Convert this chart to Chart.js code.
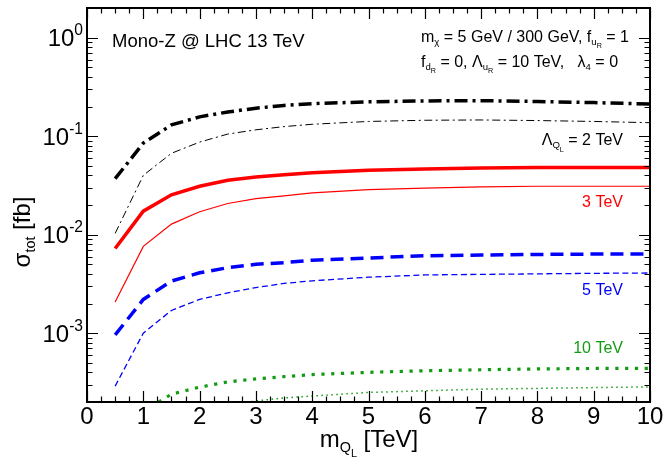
<!DOCTYPE html>
<html>
<head>
<meta charset="utf-8">
<script src="https://cdn.jsdelivr.net/npm/chart.js@4.4.1/dist/chart.umd.min.js"></script>
<style>
  html, body { margin: 0; padding: 0; background: #fff; }
</style>
</head>
<body>
<canvas id="xsecChart" width="665" height="463"></canvas>
<script>
// m_Q (TeV) sample points and cross sections (fb)
const massPoints = [0.5, 1, 1.5, 2, 2.5, 3, 3.5, 4, 5, 6, 7, 8, 9, 10];

// Lambda_QL = 2 TeV
const sigL2_m5   = [0.037, 0.085, 0.130, 0.157, 0.176, 0.192, 0.205, 0.214, 0.223, 0.228, 0.229, 0.225, 0.219, 0.212];
const sigL2_m300 = [0.0103, 0.040, 0.067, 0.087, 0.105, 0.116, 0.125, 0.132, 0.141, 0.145, 0.146, 0.144, 0.141, 0.137];
// Lambda_QL = 3 TeV
const sigL3_m5   = [0.00723, 0.0173, 0.0254, 0.031, 0.0356, 0.0385, 0.0405, 0.0425, 0.045, 0.0465, 0.0475, 0.048, 0.048, 0.048];
const sigL3_m300 = [0.00207, 0.0076, 0.0128, 0.0171, 0.0207, 0.0232, 0.0247, 0.0265, 0.0287, 0.0297, 0.0305, 0.031, 0.031, 0.031];
// Lambda_QL = 5 TeV
const sigL5_m5   = [0.00096, 0.0022, 0.00338, 0.0041, 0.00462, 0.0050, 0.0052, 0.0055, 0.0058, 0.0061, 0.0062, 0.0063, 0.00635, 0.00635];
const sigL5_m300 = [0.00029, 0.0010, 0.0017, 0.0022, 0.00257, 0.0029, 0.0032, 0.0034, 0.0037, 0.0039, 0.00395, 0.0040, 0.00405, 0.00408];
// Lambda_QL = 10 TeV
const sigL10_m5   = [0.00006, 0.00016, 0.00024, 0.000283, 0.00032, 0.000343, 0.000362, 0.00038, 0.0004, 0.000415, 0.000425, 0.000433, 0.000438, 0.00044];
const sigL10_m300 = [0.00002, 0.000067, 0.00012, 0.000153, 0.000185, 0.000205, 0.00022, 0.00023, 0.00025, 0.00026, 0.00027, 0.000275, 0.00028, 0.000285];

// axis ticks
const xTickLabels = [0, 1, 2, 3, 4, 5, 6, 7, 8, 9, 10];
const yTickValues = [1, 0.1, 0.01, 0.001];
const yTickExps = ['0', '-1', '-2', '-3'];

const FONT = '"Liberation Sans", Arial, Helvetica, sans-serif';
const GREEN = 'rgb(20,155,20)';

function pts(ys) {
  return massPoints.map((x, i) => ({ x: x, y: ys[i] }));
}

// draw text made of pieces: [text, level]  0 normal, 1 sub, 2 sub-sub, -1 super
function richText(ctx, parts, x, y, size, align, color) {
  const lv = { '0': [1, 0], '1': [0.6, 0.2], '2': [0.45, 0.42], '-1': [0.65, -0.45] };
  let total = 0;
  parts.forEach(p => {
    ctx.font = (size * lv[p[1]][0]) + 'px ' + FONT;
    total += ctx.measureText(p[0]).width;
  });
  let cx = align === 'right' ? x - total : align === 'center' ? x - total / 2 : x;
  ctx.fillStyle = color || '#000';
  ctx.textAlign = 'left';
  ctx.textBaseline = 'alphabetic';
  parts.forEach(p => {
    ctx.font = (size * lv[p[1]][0]) + 'px ' + FONT;
    ctx.fillText(p[0], cx, y + size * lv[p[1]][1]);
    cx += ctx.measureText(p[0]).width;
  });
}

const framePlugin = {
  id: 'frame',
  afterDraw(chart) {
    const ctx = chart.ctx;
    const a = chart.chartArea;
    const xs = chart.scales.x, ys = chart.scales.y;
    ctx.save();
    ctx.strokeStyle = '#000';
    ctx.lineWidth = 1.2;
    ctx.beginPath();
    // x ticks, top and bottom
    for (let v = 0; v <= 10.001; v += 0.25) {
      const px = Math.round(xs.getPixelForValue(v)) + 0.5;
      const len = Math.abs(v - Math.round(v)) < 1e-6 ? 11 : 5.5;
      ctx.moveTo(px, a.bottom); ctx.lineTo(px, a.bottom - len);
      ctx.moveTo(px, a.top); ctx.lineTo(px, a.top + len);
    }
    // y ticks, left and right
    for (let e = -4; e <= 0; e++) {
      for (let m = 1; m <= 9; m++) {
        const v = m * Math.pow(10, e);
        if (v < ys.min * 0.999 || v > ys.max * 1.001) continue;
        const py = Math.round(ys.getPixelForValue(v)) + 0.5;
        const len = m === 1 ? 11 : 5.5;
        ctx.moveTo(a.left, py); ctx.lineTo(a.left + len, py);
        ctx.moveTo(a.right, py); ctx.lineTo(a.right - len, py);
      }
    }
    ctx.stroke();
    ctx.lineWidth = 2;
    ctx.strokeRect(a.left, a.top, a.right - a.left, a.bottom - a.top);

    // tick labels
    ctx.fillStyle = '#000';
    ctx.font = '24px ' + FONT;
    ctx.textAlign = 'center';
    ctx.textBaseline = 'alphabetic';
    xTickLabels.forEach(v => {
      ctx.fillText(String(v), xs.getPixelForValue(v), 424);
    });
    yTickValues.forEach((v, i) => {
      const py = ys.getPixelForValue(v);
      richText(ctx, [['10', 0], [yTickExps[i], -1]], 83, py + 8.5, 24, 'right');
    });

    // axis titles
    richText(ctx, [['m', 0], ['Q', 1], ['L', 2], [' [TeV]', 0]], 369, 447, 24, 'center');
    ctx.save();
    ctx.translate(30, 232);
    ctx.rotate(-Math.PI / 2);
    richText(ctx, [['\u03c3', 0], ['tot', 1], [' [fb]', 0]], 0, 0, 24, 'center');
    ctx.restore();

    // annotations
    richText(ctx, [['Mono-Z @ LHC 13 TeV', 0]], 112, 46.5, 18.5, 'left');
    richText(ctx, [['m', 0], ['\u03c7', 1], [' = 5 GeV / 300 GeV, f', 0], ['u', 1], ['R', 2], [' = 1', 0]], 421, 41.7, 16, 'left');
    richText(ctx, [['f', 0], ['d', 1], ['R', 2], [' = 0, \u039b', 0], ['u', 1], ['R', 2], [' = 10 TeV,   \u03bb', 0], ['4', 1], [' = 0', 0]], 421, 66.7, 16, 'left');
    richText(ctx, [['\u039b', 0], ['Q', 1], ['L', 2], [' = 2 TeV', 0]], 623, 145, 16, 'right', '#000');
    richText(ctx, [['3 TeV', 0]], 623, 206.7, 16, 'right', '#ff0000');
    richText(ctx, [['5 TeV', 0]], 623, 295, 16, 'right', '#0000ff');
    richText(ctx, [['10 TeV', 0]], 623, 353.3, 16, 'right', GREEN);
    ctx.restore();
  }
};

new Chart(document.getElementById('xsecChart').getContext('2d'), {
  type: 'line',
  data: {
    datasets: [
      { data: pts(sigL2_m5), borderColor: '#000', borderWidth: 3.5, borderDash: [13, 5, 3, 5] },
      { data: pts(sigL2_m300), borderColor: '#000', borderWidth: 1, borderDash: [8, 3.5, 2, 3.5] },
      { data: pts(sigL3_m5), borderColor: '#ff0000', borderWidth: 3.5 },
      { data: pts(sigL3_m300), borderColor: '#ff0000', borderWidth: 1.2 },
      { data: pts(sigL5_m5), borderColor: '#0000ff', borderWidth: 3.5, borderDash: [13, 7] },
      { data: pts(sigL5_m300), borderColor: '#0000ff', borderWidth: 1.3, borderDash: [6, 3.5] },
      { data: pts(sigL10_m5), borderColor: GREEN, borderWidth: 3.2, borderDash: [3.2, 6.6] },
      { data: pts(sigL10_m300), borderColor: GREEN, borderWidth: 1.5, borderDash: [1.5, 3.5] }
    ]
  },
  options: {
    responsive: false,
    animation: false,
    devicePixelRatio: 1,
    layout: { padding: { left: 87, right: 15, top: 8, bottom: 61 } },
    elements: { point: { radius: 0 }, line: { tension: 0, fill: false } },
    plugins: { legend: { display: false }, tooltip: { enabled: false } },
    scales: {
      x: { type: 'linear', min: 0, max: 10, display: false },
      y: { type: 'logarithmic', min: 2e-4, max: 2, display: false }
    }
  },
  plugins: [framePlugin]
});
</script>
</body>
</html>
